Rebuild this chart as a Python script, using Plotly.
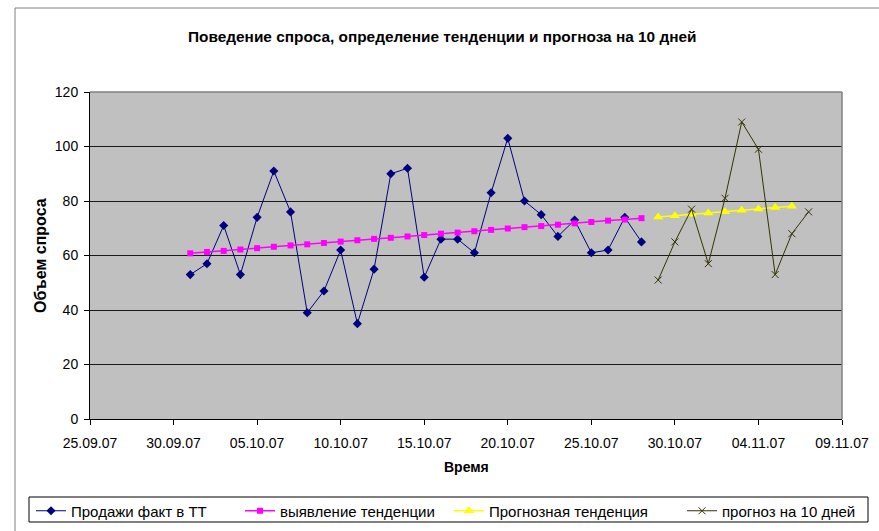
import plotly.graph_objects as go

# ---- data ----
fact_dates = ["2007-10-%02d" % d for d in range(1, 29)]
fact_values = [53, 57, 71, 53, 74, 91, 76, 39, 47, 62, 35, 55, 90, 92, 52, 66, 66, 61,
               83, 103, 80, 75, 67, 73, 61, 62, 74, 65]
trend_values = [60.8, 61.3, 61.7, 62.2, 62.7, 63.2, 63.7, 64.1, 64.6, 65.1, 65.6, 66.1,
                66.5, 67.0, 67.5, 68.0, 68.4, 68.9, 69.4, 69.9, 70.4, 70.8, 71.3, 71.8,
                72.3, 72.8, 73.2, 73.7]
fc_trend_dates = ["2007-10-29", "2007-10-30", "2007-10-31", "2007-11-01", "2007-11-02",
                  "2007-11-03", "2007-11-04", "2007-11-05", "2007-11-06"]
fc_trend_values = [74.1, 74.6, 75.1, 75.6, 76.1, 76.6, 77.1, 77.6, 78.1]
fc_dates = ["2007-10-29", "2007-10-30", "2007-10-31", "2007-11-01", "2007-11-02",
            "2007-11-03", "2007-11-04", "2007-11-05", "2007-11-06", "2007-11-07"]
fc_values = [51, 65, 77, 57, 81, 109, 99, 53, 68, 76]

names = ["Продажи факт в ТТ", "выявление тенденции", "Прогнозная тенденция", "прогноз на 10 дней"]
title_text = "Поведение спроса, определение тенденции и прогноза на 10 дней"
x_title = "Время"
y_title = "Объем спроса"

FONT = "Liberation Sans, Arial, sans-serif"

fig = go.Figure()
fig.add_trace(go.Scatter(x=fact_dates, y=fact_values, name=names[0], mode="lines+markers",
                         line=dict(color="#000080", width=1),
                         marker=dict(symbol="diamond", size=7, color="#000080"),
                         legend="legend"))
fig.add_trace(go.Scatter(x=fact_dates, y=trend_values, name=names[1], mode="lines+markers",
                         line=dict(color="#FF00FF", width=1.5),
                         marker=dict(symbol="square", size=6, color="#FF00FF"),
                         legend="legend2"))
fig.add_trace(go.Scatter(x=fc_trend_dates, y=fc_trend_values, name=names[2], mode="lines+markers",
                         line=dict(color="#FFFF00", width=1.5),
                         marker=dict(symbol="triangle-up", size=9, color="#FFFF00"),
                         legend="legend3"))
fig.add_trace(go.Scatter(x=fc_dates, y=fc_values, name=names[3], mode="lines+markers",
                         line=dict(color="#333300", width=1),
                         marker=dict(symbol="x-thin", size=7,
                                     line=dict(color="#333300", width=1)),
                         legend="legend4"))

L, R, T, B = 90, 37, 92, 112
W, H = 879, 531
pw, ph = W - L - R, H - T - B

def px(xp):
    return (xp - L) / pw

def py(yp):
    return (H - B - yp) / ph

shapes = [
    # chart area border
    dict(type="rect", xref="paper", yref="paper", x0=px(15), x1=px(900), y0=py(560), y1=py(8),
         line=dict(color="#808080", width=1), layer="below"),
    # plot area top & right border
    dict(type="line", xref="paper", yref="paper", x0=0, x1=1, y0=1, y1=1,
         line=dict(color="#808080", width=1.5), layer="above"),
    dict(type="line", xref="paper", yref="paper", x0=1, x1=1, y0=0, y1=1,
         line=dict(color="#808080", width=1.5), layer="above"),
    # legend box
    dict(type="rect", xref="paper", yref="paper", x0=px(29), x1=px(868), y0=py(522), y1=py(497),
         line=dict(color="black", width=1), fillcolor="white", layer="below"),
]

annotations = [
    dict(text="<b>" + title_text + "</b>", xref="paper", yref="paper", x=px(442), y=py(37),
         xanchor="center", yanchor="middle",
         showarrow=False, font=dict(size=15.4, color="black", family=FONT)),
    dict(text="<b>" + y_title + "</b>", xref="paper", yref="paper", x=px(41), y=py(256),
         xanchor="center", yanchor="middle",
         textangle=-90, showarrow=False, font=dict(size=16, color="black", family=FONT)),
    dict(text="<b>" + x_title + "</b>", xref="paper", yref="paper", x=px(466), y=py(467),
         xanchor="center", yanchor="middle",
         showarrow=False, font=dict(size=14, color="black", family=FONT)),
]

leg_font = dict(size=15, family=FONT, color="black")
def leg(xpix):
    return dict(orientation="h", x=px(xpix), xanchor="left", y=py(511), yanchor="middle",
                bgcolor="rgba(0,0,0,0)", borderwidth=0, font=leg_font)

fig.update_layout(
    width=W, height=H,
    margin=dict(l=L, r=R, t=T, b=B, autoexpand=False),
    paper_bgcolor="white",
    plot_bgcolor="#C0C0C0",
    font=dict(family=FONT, size=14, color="black"),
    shapes=shapes,
    annotations=annotations,
    showlegend=True,
    legend=leg(31),
    legend2=leg(240),
    legend3=leg(449),
    legend4=leg(682),
)

fig.update_xaxes(
    type="date", range=["2007-09-25", "2007-11-09"],
    tick0="2007-09-25", dtick=5 * 24 * 3600 * 1000, tickformat="%d.%m.%y",
    showgrid=False, zeroline=False,
    showline=True, linecolor="black", linewidth=1,
    ticks="outside", ticklen=5, tickcolor="black", ticklabelstandoff=6,
    tickfont=dict(size=14, family=FONT, color="black"),
)
fig.update_yaxes(
    range=[0, 120], dtick=20, tick0=0,
    showgrid=True, gridcolor="#1a1a1a", gridwidth=1, zeroline=False,
    showline=True, linecolor="black", linewidth=1,
    ticks="outside", ticklen=5, tickcolor="black", ticklabelstandoff=3,
    tickfont=dict(size=14, family=FONT, color="black"),
)

fig.write_html("out.html", config={"displayModeBar": False},
               post_script="document.body.style.margin='0';document.body.style.overflow='hidden';")
